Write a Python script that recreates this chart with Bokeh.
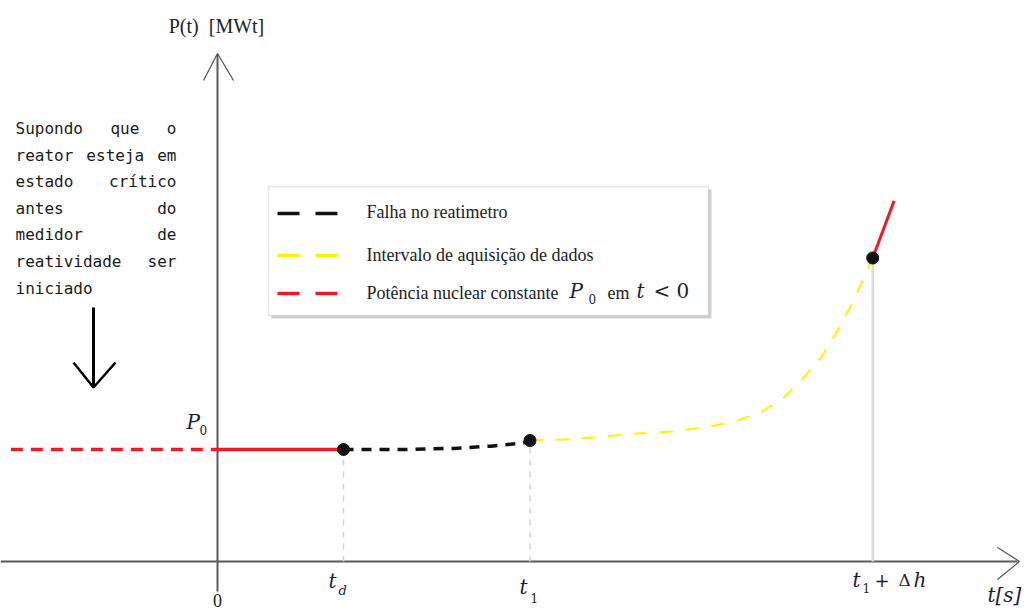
from bokeh.plotting import figure
from bokeh.models import Range1d, Label, BoxAnnotation
from bokeh.embed import file_html
from bokeh.resources import INLINE

# ---- data (time in units of t_d, power in units of P0) ----
P0 = 1.0
t_d = 1.0
t_1 = 2.48
t_end = 5.20            # t1 + Δh
t_pre = [-1.64, 0.0]    # constant power before t = 0
t_hold = [0.0, t_d]     # constant power until the meter fails

black_t = [1.00, 1.48, 1.87, 2.17, 2.43, 2.48]
black_p = [1.00, 1.00, 1.01, 1.03, 1.06, 1.08]

yellow_t = [2.48, 2.75, 3.02, 3.28, 3.60, 3.89, 4.13, 4.31, 4.49, 4.65, 4.79, 4.92, 5.05, 5.20]
yellow_p = [1.08, 1.09, 1.11, 1.14, 1.16, 1.20, 1.26, 1.33, 1.46, 1.64, 1.82, 2.06, 2.33, 2.71]

after_t = [5.20, 5.37]
after_p = [2.71, 3.22]

legend_labels = ["Falha no reatimetro", "Intervalo de aquisição de dados",
                 "Potência nuclear constante"]
note_lines = ["Supondo que o", "reator esteja em", "estado crítico", "antes do",
              "medidor de", "reatividade ser", "iniciado"]

RED = "#ed1c24"
YELLOW = "#fff200"
BLACK = "#111111"
GUIDE = "#d4d4d4"
AXIS = "#5a5a5a"

W, H = 1026, 613
X0, SX = 217, 126.0   # pixel of t=0, pixels per time unit
Y0, SY = 561, 112.0   # pixel of P=0, pixels per power unit


def dx(px):
    return (px - X0) / SX


def dy(py):
    return (Y0 - py) / SY


p = figure(width=W, height=H, output_backend="svg", toolbar_location=None,
           x_range=Range1d(dx(0), dx(W)), y_range=Range1d(dy(H), dy(0)),
           x_axis_type=None, y_axis_type=None, min_border=0,
           min_border_left=0, min_border_right=0, min_border_top=0, min_border_bottom=0)
p.grid.visible = False
p.outline_line_color = None
p.background_fill_color = "white"
p.border_fill_color = "white"

# ---- axes drawn as arrows ----
p.line([dx(0), dx(1017)], [0, 0], line_color=AXIS, line_width=2)
p.line([dx(997), dx(1019), dx(997)], [dy(547), 0, dy(579)], line_color=AXIS, line_width=1.3)
p.line([0, 0], [dy(591), dy(54)], line_color=AXIS, line_width=2)
p.line([dx(203), 0, dx(233)], [dy(80), dy(53), dy(80)], line_color=AXIS, line_width=1.3)

# ---- guide lines down to the time axis ----
p.line([t_d, t_d], [0, P0], line_color=GUIDE, line_width=1.5, line_dash="6 6")
p.line([t_1, t_1], [0, black_p[-1]], line_color=GUIDE, line_width=1.5, line_dash="6 6")
p.line([t_end, t_end], [0, yellow_p[-1]], line_color="#dcdcdc", line_width=2.5)

# ---- power curve ----
p.line(t_pre, [P0, P0], line_color=RED, line_width=3.5, line_dash="12 8")
p.line(t_hold, [P0, P0], line_color=RED, line_width=3.5)
p.line(black_t, black_p, line_color=BLACK, line_width=3.5, line_dash="10 8")
p.line(yellow_t, yellow_p, line_color=YELLOW, line_width=2, line_dash="13 13")
p.line(after_t, after_p, line_color=RED, line_width=3)
p.scatter([t_d, t_1, t_end], [P0, black_p[-1], yellow_p[-1]], size=12, color=BLACK)

# ---- legend box ----
p.add_layout(BoxAnnotation(left=dx(271), right=dx(711), top=dy(189), bottom=dy(318),
                           fill_color="#cfcfcf", fill_alpha=1, line_color=None, level="underlay"))
p.add_layout(BoxAnnotation(left=dx(268), right=dx(708), top=dy(186), bottom=dy(315),
                           fill_color="white", fill_alpha=1, line_color="#a8a8a8",
                           line_width=1.5, level="underlay"))
legend_colors = [BLACK, YELLOW, RED]
legend_rows = [213, 255, 293]
for c, row in zip(legend_colors, legend_rows):
    p.line([dx(277), dx(337)], [dy(row), dy(row)], line_color=c, line_width=3.5,
           line_dash="22 16")
for lab, row in zip(legend_labels, [211, 254, 292]):
    p.add_layout(Label(x=dx(366), y=dy(row), text=lab, text_font="Liberation Serif",
                       text_font_size="18px", text_color="#222222", text_baseline="middle"))

MATH = "DejaVu Serif"


def label(x, y, text, size, italic=False, align="left", font=MATH, color="#1e1e2e"):
    p.add_layout(Label(x=dx(x), y=dy(y), text=text, text_font=font,
                       text_font_size=f"{size}px", text_color=color,
                       text_font_style="italic" if italic else "normal",
                       text_align=align, text_baseline="middle"))


label(569, 290, "P", 20, italic=True)
label(588, 298, "0", 12)
label(607, 292, "em", 18, font="Liberation Serif", color="#222222")
label(636, 290, "t", 20, italic=True)
label(653, 290, "< 0", 20)

# ---- axis texts ----
label(216, 25, "P(t)\u00a0 [MWt]", 20, align="center", font="Liberation Serif", color="#222222")
label(217, 600, "0", 18, align="center", font="Liberation Serif", color="#222222")
label(328, 580, "t", 20, italic=True)
label(338, 590, "d", 13, italic=True)
label(519, 586, "t", 20, italic=True)
label(530, 597, "1", 12)
label(852, 579, "t", 20, italic=True)
label(862, 587, "1", 12)
label(874, 579, "+", 18)
label(898, 579, "Δ", 17)
label(913, 579, "h", 20, italic=True)
label(987, 594, "t[s]", 20, italic=True)
label(186, 421, "P", 20, italic=True)
label(199, 429, "0", 12)

# ---- explanatory note, justified between x=15 and x=176 ----
CH = 0.602 * 16
left_px, right_px = 15, 176
for i, line in enumerate(note_lines):
    ypx = 128 + i * 26.6
    words = line.split()
    if i == len(note_lines) - 1 or len(words) == 1:
        label(left_px, ypx, line, 16, font="DejaVu Sans Mono", color="#1a1a1a")
        continue
    widths = [len(w) * CH for w in words]
    gap = (right_px - left_px - sum(widths)) / (len(words) - 1)
    xpos = left_px
    for w, wd in zip(words, widths):
        label(xpos, ypx, w, 16, font="DejaVu Sans Mono", color="#1a1a1a")
        xpos += wd + gap

# down arrow under the note
p.line([dx(93), dx(93)], [dy(307), dy(386)], line_color="black", line_width=3)
p.line([dx(73), dx(93), dx(115)], [dy(362), dy(387), dy(362)], line_color="black",
       line_width=2.5)

open("out.html", "w").write(file_html(p, INLINE))
